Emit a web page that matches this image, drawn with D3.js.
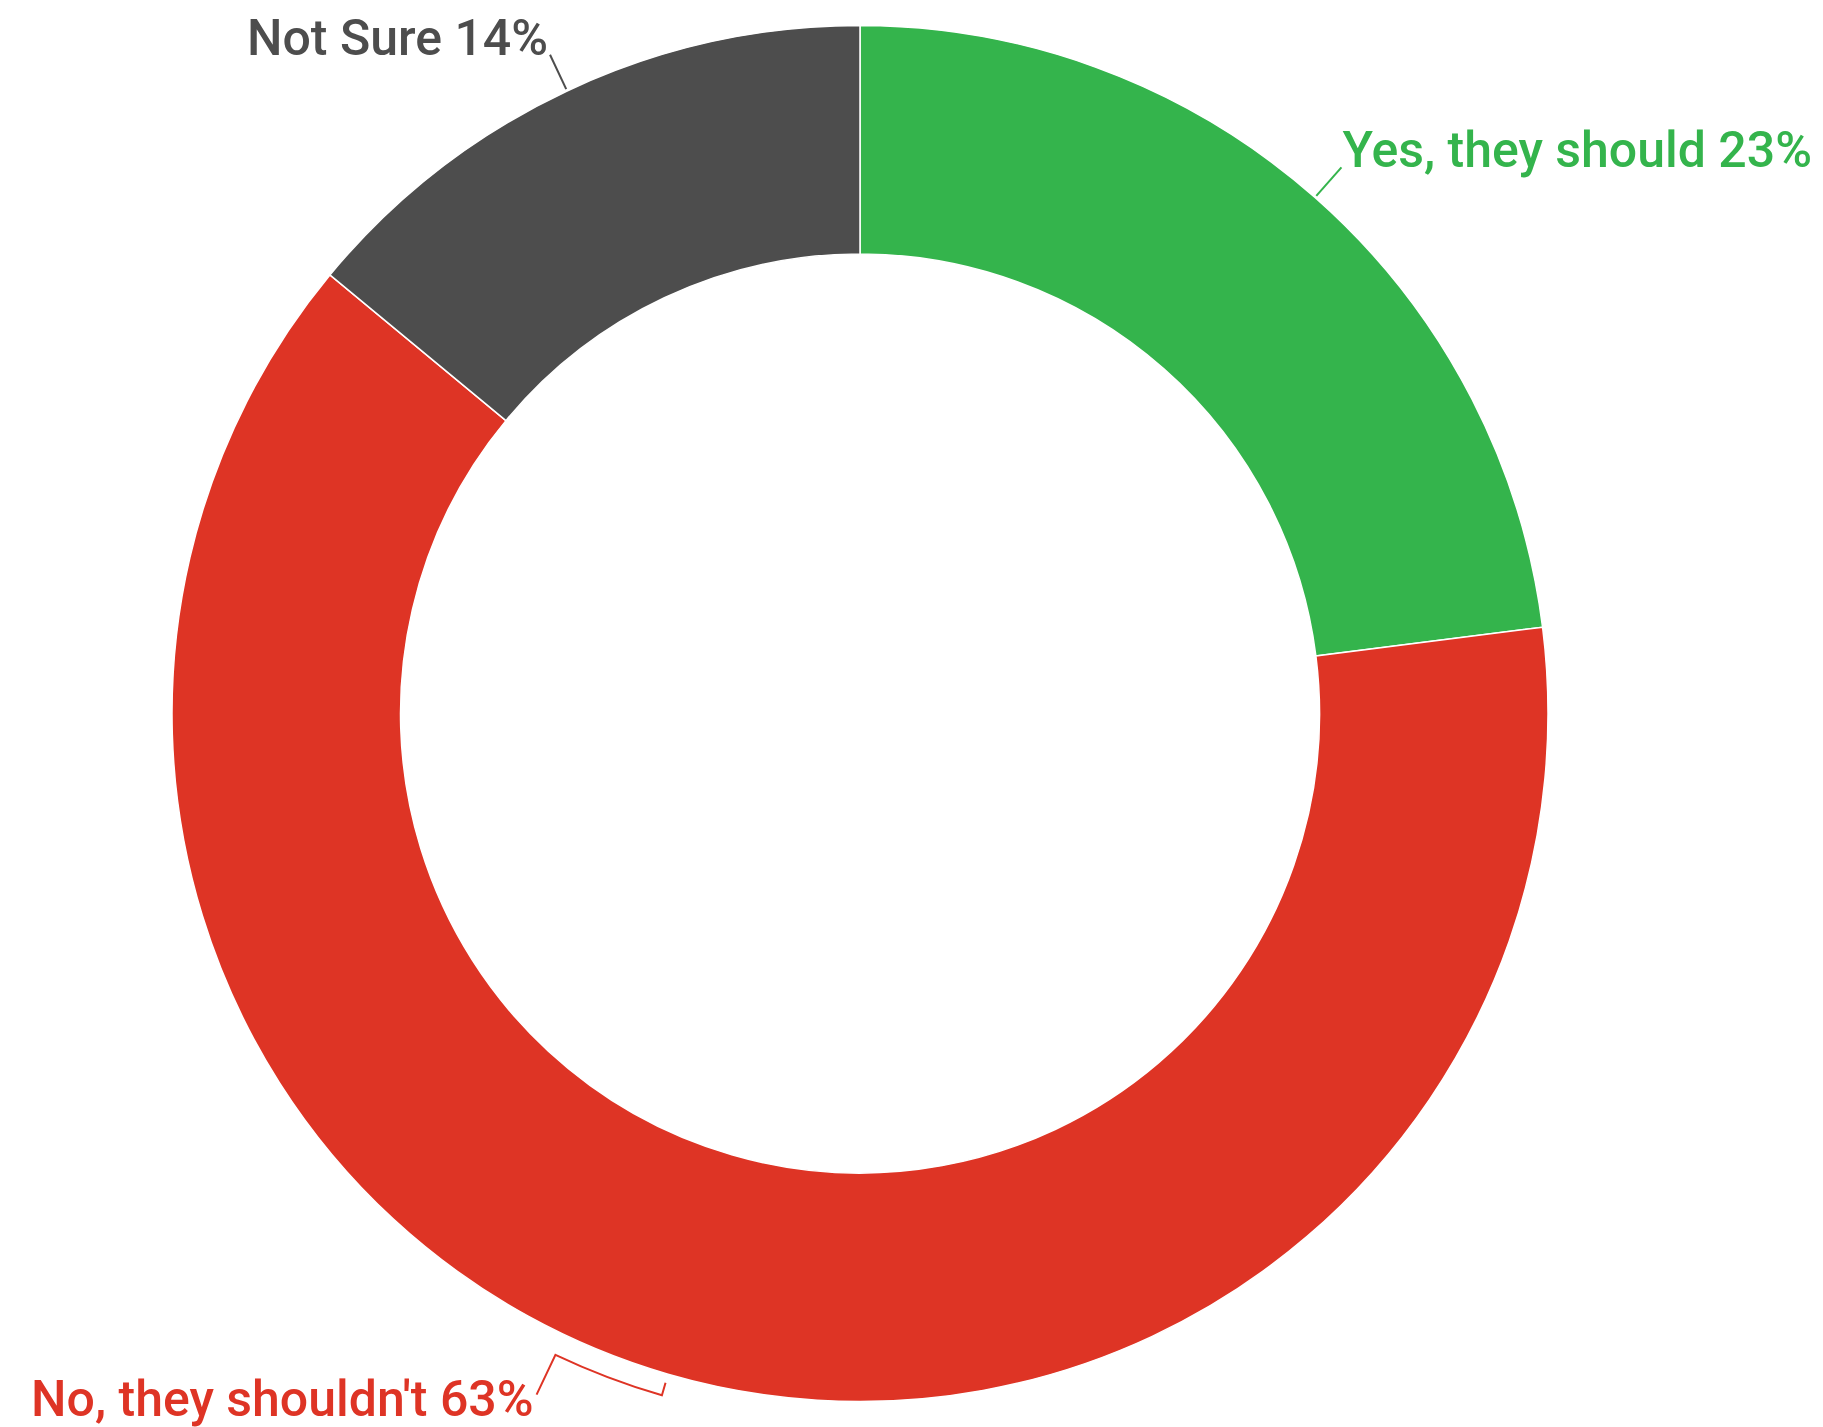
<!DOCTYPE html>
<html>
<head>
<meta charset="utf-8">
<script src="https://cdn.jsdelivr.net/npm/d3@7"></script>
<style>
  body { margin: 0; background: #fff; }
  text { font-family: Roboto, "Noto Sans", sans-serif; font-weight: 500; }
</style>
</head>
<body>
<svg id="chart" width="1823" height="1427"></svg>
<script>
// answers, in the order the slices go round clockwise from 12 o'clock
var answers = ["Yes, they should", "No, they shouldn't", "Not Sure"]
var shares = [23, 63, 14]
var colours = ["#34b44c", "#de3425", "#4d4d4d"]

var cx = 860, cy = 713.5
var outer = 688, inner = 459.5

var svg = d3.select("#chart")
var g = svg.append("g").attr("transform", `translate(${cx},${cy})`)

var pie = d3.pie().sort(null).value(d => d.value)
var slices = pie(answers.map((a, i) => ({"name": a, "value": shares[i], "colour": colours[i]})))

var arc = d3.arc().innerRadius(inner).outerRadius(outer)

g.selectAll("path.slice")
    .data(slices)
    .join("path")
    .attr("class", "slice")
    .attr("d", arc)
    .attr("fill", d => d.data.colour)
    .attr("stroke", "#fff")
    .attr("stroke-width", 1.5)

// polar helper, angle in radians from 12 o'clock clockwise
function polar (angle, r) {
    return [r * Math.sin(angle), -r * Math.cos(angle)]
}
function mid (d) { return (d.startAngle + d.endAngle) / 2 }
var deg = Math.PI / 180

// label placement per slice (layout only)
var labelLayout = [
    {anchor: "start", bend: 0, dx: 1, dy: 0},     // Yes
    {anchor: "end", bend: 9.2, dx: -3, dy: 21},   // No
    {anchor: "end", bend: 0, dx: -2, dy: 0}       // Not Sure
]

slices.forEach((d, i) => {
    var lay = labelLayout[i]
    var a = mid(d)
    var path = d3.path()
    var end
    if (lay.bend === 0) {
        var p0 = polar(a, outer + 2)
        end = polar(a, outer + 40)
        path.moveTo(p0[0], p0[1])
        path.lineTo(end[0], end[1])
    } else {
        // leader that steps out, runs round the ring, then out to the label
        var r1 = outer + 22
        var b = a + lay.bend * deg
        var q0 = polar(a, outer + 9)
        var q1 = polar(a, r1)
        end = polar(b, outer + 66)
        path.moveTo(q0[0], q0[1])
        path.lineTo(q1[0], q1[1])
        path.arc(0, 0, r1, a - Math.PI / 2, b - Math.PI / 2, false)
        path.lineTo(end[0], end[1])
    }
    g.append("path")
        .attr("d", path.toString())
        .attr("fill", "none")
        .attr("stroke", d.data.colour)
        .attr("stroke-width", 2)
    g.append("text")
        .attr("x", end[0] + lay.dx)
        .attr("y", end[1] + lay.dy)
        .attr("text-anchor", lay.anchor)
        .attr("fill", d.data.colour)
        .attr("font-size", 50)
        .text(`${d.data.name} ${d.data.value}%`)
})
</script>
</body>
</html>
